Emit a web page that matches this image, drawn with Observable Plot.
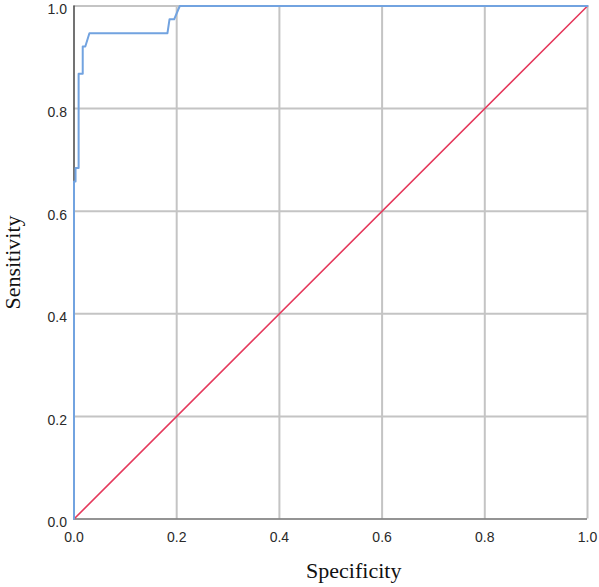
<!DOCTYPE html>
<html>
<head>
<meta charset="utf-8">
<script src="https://cdn.jsdelivr.net/npm/d3@7"></script>
<script src="https://cdn.jsdelivr.net/npm/@observablehq/plot@0.6"></script>
<style>
  html, body { margin: 0; padding: 0; background: #fff; }
  #chart svg { display: block; }
</style>
</head>
<body>
<div id="chart"></div>
<script>
// ROC curve data (x = Specificity axis, y = Sensitivity)
const fpr = [0, 0, 0.003, 0.003, 0.009, 0.009, 0.017, 0.017, 0.022, 0.030, 0.182, 0.186, 0.195, 0.206, 1];
const tpr = [0, 0.658, 0.658, 0.684, 0.684, 0.868, 0.868, 0.921, 0.921, 0.947, 0.947, 0.974, 0.974, 1, 1];
// Reference line
const refX = [0, 1];
const refY = [0, 1];
// Ticks
const ticks = [0, 0.2, 0.4, 0.6, 0.8, 1.0];
const tickLabels = ["0.0", "0.2", "0.4", "0.6", "0.8", "1.0"];
const gridTicks = [0.2, 0.4, 0.6, 0.8, 1.0];

const curve = fpr.map((x, i) => ({x, y: tpr[i]}));
const diag = refX.map((x, i) => ({x, y: refY[i]}));

const chart = Plot.plot({
  width: 599,
  height: 587,
  marginLeft: 73.5,
  marginRight: 12,
  marginTop: 5.5,
  marginBottom: 68.5,
  style: {background: "#fff", overflow: "visible"},
  x: {domain: [0, 1], axis: null},
  y: {domain: [0, 1], axis: null},
  marks: [
    Plot.ruleX(gridTicks, {stroke: "#c4c4c4", strokeWidth: 2}),
    Plot.ruleY(gridTicks, {stroke: "#c4c4c4", strokeWidth: 2}),
    Plot.ruleX([0], {stroke: "#505050", strokeWidth: 1.6}),
    Plot.ruleY([0], {stroke: "#707070", strokeWidth: 1.6}),
    Plot.line(diag, {x: "x", y: "y", stroke: "#e5395c", strokeWidth: 1.6}),
    Plot.line(curve, {x: "x", y: "y", stroke: "#72a3e0", strokeWidth: 2}),
    Plot.text(ticks, {
      x: 0, y: d => d, text: (d, i) => tickLabels[i],
      textAnchor: "end", dx: -7, dy: 4,
      fontFamily: "Liberation Sans, Arial, sans-serif", fontSize: 14, fill: "#2a2a2a"
    }),
    Plot.text(ticks, {
      x: d => d, y: 0, text: (d, i) => tickLabels[i],
      textAnchor: "middle", dy: 18.5,
      fontFamily: "Liberation Sans, Arial, sans-serif", fontSize: 14, fill: "#2a2a2a"
    }),
    Plot.text(["Specificity"], {
      frameAnchor: "bottom", dx: 23, dy: 59,
      fontFamily: "Liberation Serif, Times New Roman, serif", fontSize: 22, fill: "#111"
    }),
    Plot.text(["Sensitivity"], {
      x: 0, y: 0.5, dx: -61, rotate: -90,
      fontFamily: "Liberation Serif, Times New Roman, serif", fontSize: 22, fill: "#111"
    })
  ]
});
document.getElementById("chart").appendChild(chart);
</script>
</body>
</html>
